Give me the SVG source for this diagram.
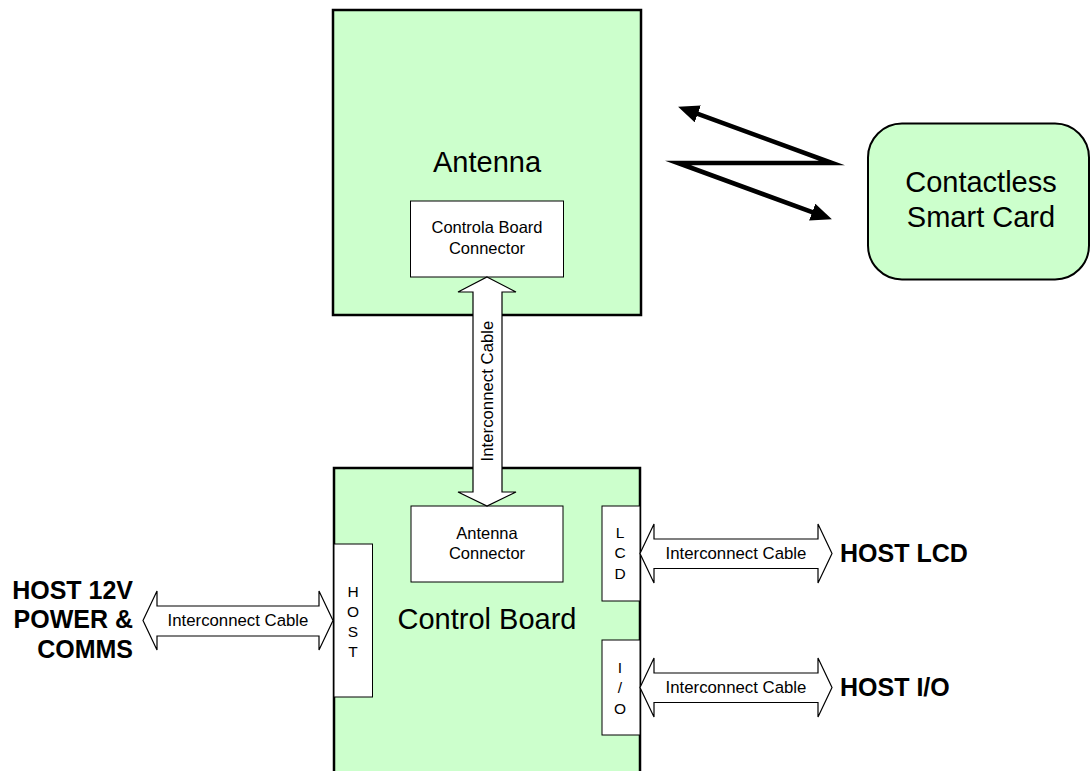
<svg xmlns="http://www.w3.org/2000/svg" width="1090" height="771" viewBox="0 0 1090 771">
<style>
.board{fill:#ccffcc;stroke:#000;stroke-width:2.5}
.conn{fill:#fff;stroke:#000;stroke-width:1}
.cable{fill:#fff;stroke:#000;stroke-width:1.2;stroke-linejoin:miter}
.t{font-family:"Liberation Sans",Arial,sans-serif;fill:#000}
.big{font-size:29px}
.mid{font-size:16.5px}
.cab{font-size:16.8px}
.let{font-size:15.5px}
.host{font-size:25px;font-weight:bold}
</style>
<defs>
<marker id="ah" markerUnits="userSpaceOnUse" markerWidth="22" markerHeight="19" refX="8" refY="9" orient="auto-start-reverse" viewBox="0 0 22 19">
<path d="M0,0 L21,9 L0,18 z" fill="#000"/>
</marker>
</defs>
<rect width="1090" height="771" fill="#fff"/>

<g id="antenna">
<rect class="board" x="333" y="10" width="308" height="305"/>
<text class="t big" x="487" y="172" text-anchor="middle">Antenna</text>
</g>
<g id="controla-board-connector">
<rect class="conn" x="410.5" y="201" width="153" height="76"/>
<text class="t mid" x="487" y="233" text-anchor="middle">Controla Board</text>
<text class="t mid" x="487" y="254" text-anchor="middle">Connector</text>
</g>

<g id="control-board">
<rect class="board" x="334" y="468" width="306" height="340"/>
<text class="t big" x="487" y="629" text-anchor="middle">Control Board</text>
</g>
<g id="antenna-connector">
<rect class="conn" x="411" y="506" width="152" height="76"/>
<text class="t mid" x="487" y="539" text-anchor="middle">Antenna</text>
<text class="t mid" x="487" y="559" text-anchor="middle">Connector</text>
</g>
<g id="host-connector">
<rect class="conn" x="334" y="544" width="38.5" height="153"/>
<text class="t let" x="353" y="597" text-anchor="middle">H</text>
<text class="t let" x="353" y="617" text-anchor="middle">O</text>
<text class="t let" x="353" y="637" text-anchor="middle">S</text>
<text class="t let" x="353" y="657" text-anchor="middle">T</text>
</g>
<g id="lcd-connector">
<rect class="conn" x="602" y="506" width="38" height="95"/>
<text class="t let" x="620" y="538" text-anchor="middle">L</text>
<text class="t let" x="620" y="558" text-anchor="middle">C</text>
<text class="t let" x="620" y="579" text-anchor="middle">D</text>
</g>
<g id="io-connector">
<rect class="conn" x="602" y="640" width="38" height="95"/>
<text class="t let" x="620" y="673" text-anchor="middle">I</text>
<text class="t let" x="620" y="693" text-anchor="middle">/</text>
<text class="t let" x="620" y="714" text-anchor="middle">O</text>
</g>

<g id="smart-card">
<rect x="868" y="123.5" width="221" height="156" rx="34" ry="34" fill="#ccffcc" stroke="#000" stroke-width="2"/>
<text class="t big" x="981" y="192" text-anchor="middle">Contactless</text>
<text class="t big" x="981" y="227" text-anchor="middle">Smart Card</text>
</g>

<g id="host-power-label">
<text class="t host" x="133" y="599" text-anchor="end">HOST 12V</text>
<text class="t host" x="133" y="628" text-anchor="end">POWER &amp;</text>
<text class="t host" x="133" y="658" text-anchor="end">COMMS</text>
</g>
<g id="host-lcd-label">
<text class="t host" x="840" y="562">HOST LCD</text>
</g>
<g id="host-io-label">
<text class="t host" x="840" y="696">HOST I/O</text>
</g>

<g id="connectors">
<polygon class="cable" points="487,277 516,292 502,292 502,492 516,492 487,506 458,492 473,492 473,292 458,292"/>
<text class="t cab" transform="translate(493,391) rotate(-90)" text-anchor="middle">Interconnect Cable</text>

<polygon class="cable" points="143,620.5 157,591 157,606 319,606 319,591 333,620.5 319,650 319,636 157,636 157,650"/>
<text class="t cab" x="238" y="626" text-anchor="middle">Interconnect Cable</text>

<polygon class="cable" points="640,553.5 654,524 654,539 818,539 818,524 832,553.5 818,583 818,568.5 654,568.5 654,583"/>
<text class="t cab" x="736" y="558.5" text-anchor="middle">Interconnect Cable</text>

<polygon class="cable" points="640,687.5 654,658 654,673 818,673 818,658 832,687.5 818,717 818,702.5 654,702.5 654,717"/>
<text class="t cab" x="736" y="692.5" text-anchor="middle">Interconnect Cable</text>

<path d="M690.3,111.1 L832,163 L678,163 L819.7,214.9" fill="none" stroke="#000" stroke-width="4.6" stroke-linejoin="miter" stroke-miterlimit="12" marker-start="url(#ah)" marker-end="url(#ah)"/>
</g>
</svg>
